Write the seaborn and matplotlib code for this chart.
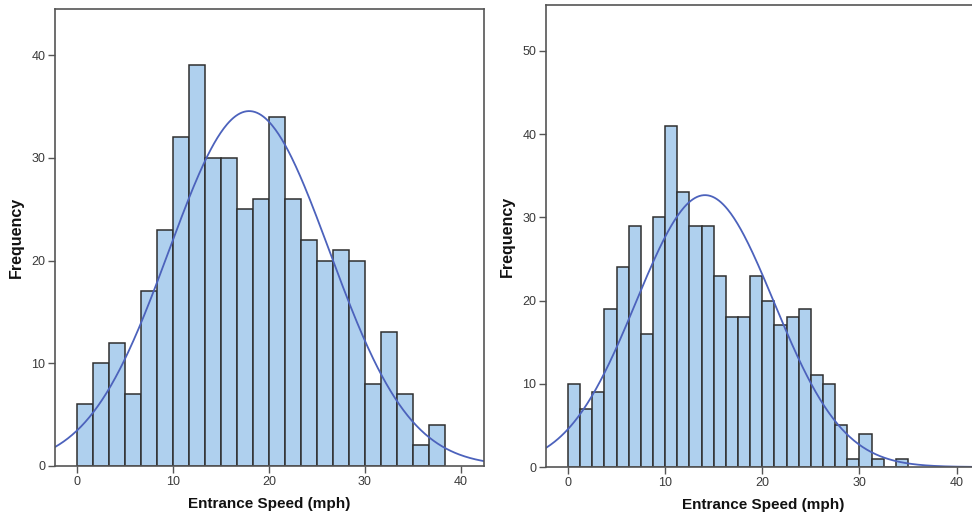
import numpy as np
import pandas as pd
import matplotlib
matplotlib.use("Agg")
import matplotlib.pyplot as plt
import seaborn as sns

# ---- data ----
left_bin_width = 5 / 3
left_counts = [6, 10, 12, 7, 17, 23, 32, 39, 30, 30, 25, 26, 34, 26, 22, 20, 21, 20, 8, 13, 7, 2, 4]
left_mean, left_sd = 17.95, 8.35

right_bin_width = 1.25
right_counts = [10, 7, 9, 19, 24, 29, 16, 30, 41, 33, 29, 29, 23, 18, 18, 23, 20, 17, 18, 19,
                11, 10, 5, 1, 4, 1, 0, 1]
right_mean, right_sd = 14.1, 7.1

x_ticks = [0, 10, 20, 30, 40]
left_y_ticks = [0, 10, 20, 30, 40]
right_y_ticks = [0, 10, 20, 30, 40, 50]
x_label = "Entrance Speed (mph)"
y_label = "Frequency"

BAR = "#AFD0EE"
EDGE = "#2f2f2f"
CURVE = "#4C62BC"
SPINE = "#555555"

sns.set_theme(style="white")
plt.rcParams["font.family"] = ["Liberation Sans", "DejaVu Sans"]

W, H = 972, 519
fig = plt.figure(figsize=(W / 100, H / 100), dpi=100)


def panel(rect, counts, width, mean, sd, xlim, ylim, yticks, ylabelpad, right_spine=True):
    ax = fig.add_axes(rect)
    counts = [float(c) for c in counts]
    nb = len(counts)
    centers = [(i + 0.5) * width for i in range(nb)]
    df = pd.DataFrame({"x": centers, "w": counts})
    sns.histplot(data=df, x="x", weights="w", binwidth=width, binrange=(0, nb * width),
                 ax=ax, color=BAR, edgecolor=EDGE, linewidth=1.1, alpha=1.0)
    n = sum(counts)
    xs = np.linspace(xlim[0], xlim[1], 400)
    ys = n * width / (sd * np.sqrt(2 * np.pi)) * np.exp(-0.5 * ((xs - mean) / sd) ** 2)
    sns.lineplot(x=xs, y=ys, ax=ax, color=CURVE, linewidth=1.3)
    ax.set_xlim(*xlim)
    ax.set_ylim(*ylim)
    ax.set_xticks(x_ticks)
    ax.set_yticks(yticks)
    ax.tick_params(axis="both", which="both", direction="out", length=5, width=1,
                   color=SPINE, labelsize=9, labelcolor="#3a3a3a", pad=2,
                   bottom=True, left=True)
    for s in ["left", "bottom", "top", "right"]:
        ax.spines[s].set_color(SPINE)
        ax.spines[s].set_linewidth(1.2)
    if not right_spine:
        ax.spines["right"].set_visible(False)
    ax.set_xlabel(x_label, fontsize=11, fontweight="bold", labelpad=7, color="#111111")
    ax.set_ylabel(y_label, fontsize=11.5, fontweight="bold", labelpad=ylabelpad, color="#111111")
    ax.grid(False)
    return ax


# left panel: x 55..484 px, y 9..466 px
panel([55 / W, 1 - 466 / H, (484 - 55) / W, (466 - 9) / H],
      left_counts, left_bin_width, left_mean, left_sd,
      (-2.26, 42.4), (0, 44.5), left_y_ticks, ylabelpad=5)

# right panel: x 546..(beyond 972) px, y 5..467 px
panel([546 / W, 1 - 467 / H, (980 - 546) / W, (467 - 5) / H],
      right_counts, right_bin_width, right_mean, right_sd,
      (-2.26, 42.4), (0, 55.5), right_y_ticks, ylabelpad=5, right_spine=False)

fig.savefig("out.png", dpi=100)
